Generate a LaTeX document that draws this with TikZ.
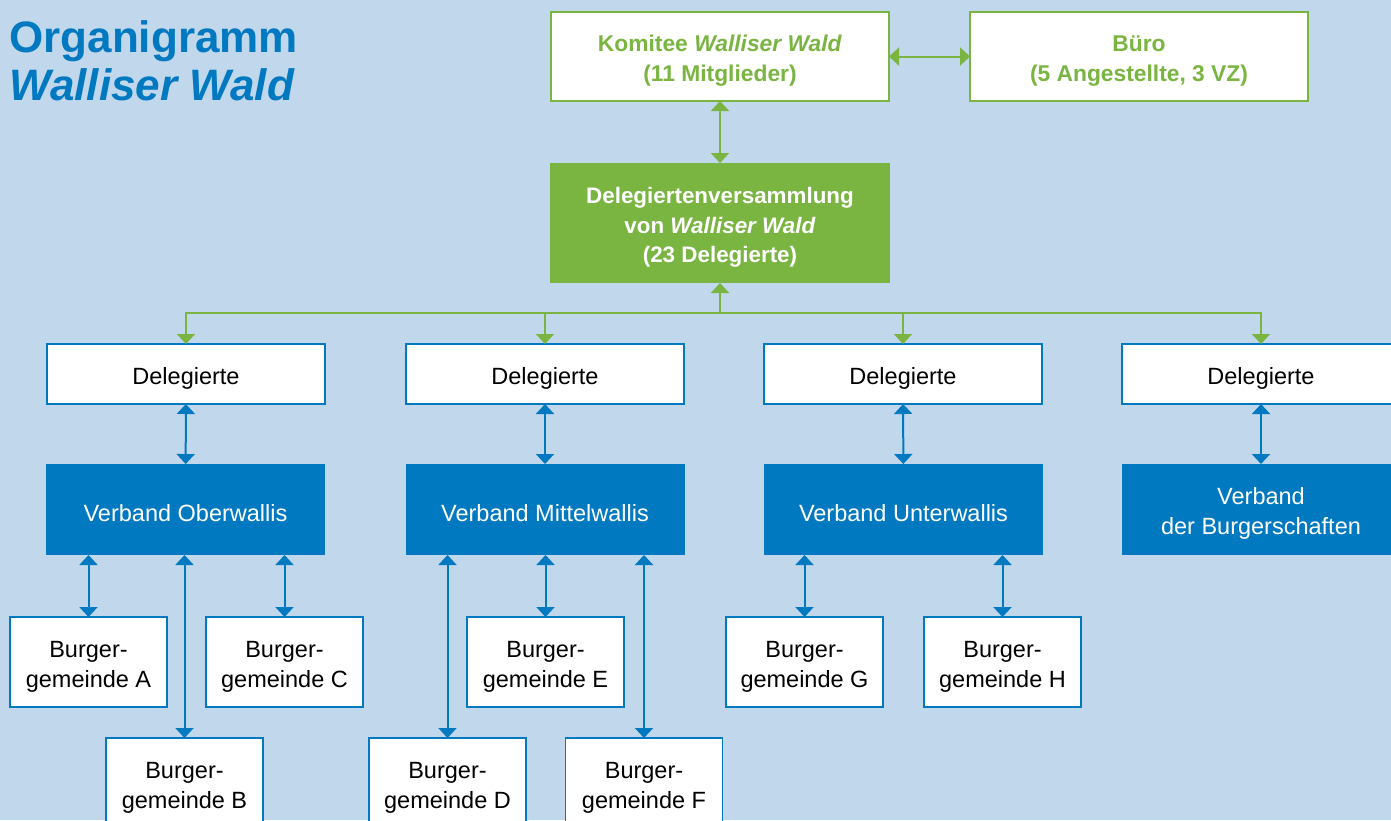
\documentclass[tikz,border=0pt]{standalone}
\usepackage{fontspec}
\setmainfont{Liberation Sans}
\usetikzlibrary{arrows.meta}

\definecolor{wwbg}{HTML}{C1D7EC}
\definecolor{wwblue}{HTML}{0079C1}
\definecolor{wwgreen}{HTML}{7AB441}

\newcommand\lift{\rule{0pt}{12.5pt}}

\tikzset{
  box/.style={inner sep=0pt,outer sep=0pt,align=center,
    font=\fontsize{11.75}{15}\selectfont},
  greenbox/.style={box,draw=wwgreen,fill=white,text=wwgreen,line width=0.75pt,
    minimum width=169pt,minimum height=44.5pt,font=\fontsize{11.4}{15}\selectfont\bfseries},
  delbox/.style={box,draw=wwblue,fill=white,line width=0.75pt,
    minimum width=139pt,minimum height=30pt},
  verbox/.style={box,fill=wwblue,text=white,
    minimum width=139.5pt,minimum height=45.5pt},
  burgbox/.style={box,draw=wwblue,fill=white,line width=0.75pt,
    minimum width=78.5pt,minimum height=45pt},
  garrow/.style={wwgreen,line width=1pt,{Triangle[width=9pt,length=5pt]}-{Triangle[width=9pt,length=5pt]}},
  barrow/.style={wwblue,line width=1pt,{Triangle[width=9pt,length=5pt]}-{Triangle[width=9pt,length=5pt]}}
}

\begin{document}
\begin{tikzpicture}[x=0.5pt,y=-0.5pt]
            \useasboundingbox[fill=wwbg] (0,0) rectangle (1391,820);
            % Titel
            \draw (9,52) node[anchor=base west,inner sep=0pt,text=wwblue,
             font=\fontsize{22}{24}\selectfont\bfseries] (t1) {Organigramm};
            \draw (9,100) node[anchor=base west,inner sep=0pt,text=wwblue,
             font=\fontsize{22}{24}\selectfont\bfseries\itshape] (t2) {Walliser Wald};
            % oben
            \draw (720,56.5) node[greenbox] (K) {\lift Komitee \textit{Walliser Wald}\\(11 Mitglieder)};
            \draw (1139,56.5) node[greenbox] (BU) {\lift Büro\\(5 Angestellte, 3 VZ)};
            \draw (720,223) node[box,fill=wwgreen,text=white,minimum width=170pt,
             minimum height=60pt,font=\fontsize{11.2}{14.8}\selectfont\bfseries] (DV)
             {\lift Delegiertenversammlung\\von \textit{Walliser Wald}\\(23 Delegierte)};
            \draw[garrow] (K)--(BU);
            \draw[garrow] (K)--(DV);
            % Delegierte
            \draw (186,374) node[delbox] (D1) {\lift Delegierte};
            \draw (545,374) node[delbox] (D2) {\lift Delegierte};
            \draw (903,374) node[delbox] (D3) {\lift Delegierte};
            \draw (1261,374) node[delbox] (D4) {\lift Delegierte};
            \coordinate (bus) at (720,313);
            \draw[wwgreen,line width=1pt,{Triangle[width=9pt,length=5pt]}-] (DV)--(bus);
            \foreach \d in {D1,D2,D3,D4}
              \draw[wwgreen,line width=1pt,-{Triangle[width=9pt,length=5pt]}] (bus) -| (\d.north);
            % Verbaende
            \draw (185.5,509.5) node[verbox] (V1) {\lift Verband Oberwallis};
            \draw (545,509.5) node[verbox] (V2) {\lift Verband Mittelwallis};
            \draw (903.5,509.5) node[verbox] (V3) {\lift Verband Unterwallis};
            \draw (1261,509.5) node[verbox] (V4) {\lift Verband\\der Burgerschaften};
            \draw[barrow] (D1)--(V1);
            \draw[barrow] (D2)--(V2);
            \draw[barrow] (D3)--(V3);
            \draw[barrow] (D4)--(V4);
            % Burgergemeinden
            \draw (88.5,662) node[burgbox] (BA) {\lift Burger-\\gemeinde A};
            \draw (184.5,783) node[burgbox] (BB) {\lift Burger-\\gemeinde B};
            \draw (284.5,662) node[burgbox] (BC) {\lift Burger-\\gemeinde C};
            \draw (447.5,783) node[burgbox] (BD) {\lift Burger-\\gemeinde D};
            \draw (545.5,662) node[burgbox] (BE) {\lift Burger-\\gemeinde E};
            \draw (644,783) node[burgbox] (BF) {\lift Burger-\\gemeinde F};
            \draw (804.5,662) node[burgbox] (BG) {\lift Burger-\\gemeinde G};
            \draw (1002.5,662) node[burgbox] (BH) {\lift Burger-\\gemeinde H};
            \draw[barrow] (V1.south -| BA)--(BA);
            \draw[barrow] (V1.south -| BB)--(BB);
            \draw[barrow] (V1.south -| BC)--(BC);
            \draw[barrow] (V2.south -| BD)--(BD);
            \draw[barrow] (V2.south -| BE)--(BE);
            \draw[barrow] (V2.south -| BF)--(BF);
            \draw[barrow] (V3.south -| BG)--(BG);
            \draw[barrow] (V3.south -| BH)--(BH);
        \end{tikzpicture}
\end{document}
